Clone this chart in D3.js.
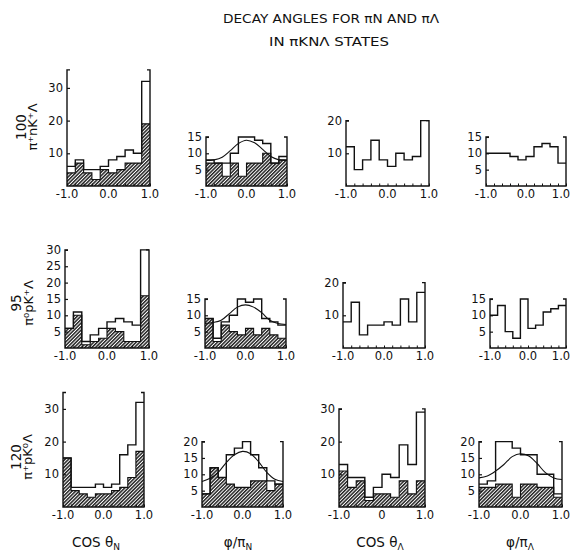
<!DOCTYPE html>
<html>
<head>
<meta charset="utf-8">
<script src="https://cdn.jsdelivr.net/npm/d3@7"></script>
<style>
body { margin: 0; background: #fff; }
svg text { font-family: "DejaVu Sans", sans-serif; fill: #111; }
</style>
</head>
<body>
<svg id="chart" width="572" height="553"></svg>
<script>
// bin edges shared by every histogram (10 bins, -1 .. 1)
const binEdges = [-1.0, -0.8, -0.6, -0.4, -0.2, 0.0, 0.2, 0.4, 0.6, 0.8, 1.0];
const fitX = [-1.0, -0.8, -0.6, -0.4, -0.2, 0.0, 0.2, 0.4, 0.6, 0.8, 1.0];

// row 1: pi+ n K+ Lambda, 100 events
const r1CosN      = [6, 8, 5, 5, 6, 8, 9, 11, 10, 32];
const r1CosNHatch = [4, 7, 4, 2, 5, 4, 5, 7, 7, 19];
const r1PhiN      = [8, 7, 7, 10, 15, 15, 14, 13, 7, 9];
const r1PhiNHatch = [7, 7, 3, 7, 3, 7, 7, 10, 7, 8];
const r1PhiNFit   = [7.8, 8, 8.8, 10.8, 13, 14, 13.2, 11.2, 9, 8, 7.8];
const r1CosL      = [12, 5, 8, 14, 8, 6, 10, 8, 9, 20];
const r1PhiL      = [10, 10, 10, 9, 8, 9, 12, 13, 12, 7];

// row 2: pi0 p K+ Lambda, 95 events
const r2CosN      = [6, 11, 2, 4, 6, 8, 9, 8, 7, 30];
const r2CosNHatch = [6, 10, 1, 2, 3, 6, 5, 2, 2, 16];
const r2PhiN      = [9, 3, 8, 10, 15, 14, 15, 9, 8, 7];
const r2PhiNHatch = [9, 2, 7, 5, 4, 6, 4, 6, 4, 3];
const r2PhiNFit   = [7.5, 7.8, 8.5, 10.5, 12.5, 13.2, 12.5, 10.8, 8.5, 7.5, 7.2];
const r2CosL      = [8, 14, 4, 7, 7, 8, 7, 15, 8, 17];
const r2PhiL      = [10, 13, 5, 3, 15, 6, 7, 11, 12, 13];

// row 3: pi+ p K0 Lambda, 120 events
const r3CosN      = [15, 6, 6, 6, 7, 6, 7, 16, 19, 32];
const r3CosNHatch = [15, 5, 4, 3, 4, 4, 5, 6, 9, 17];
const r3PhiN      = [4, 12, 9, 16, 18, 20, 16, 12, 8, 7];
const r3PhiNHatch = [4, 12, 9, 7, 6, 6, 8, 8, 5, 7];
const r3PhiNFit   = [7.8, 8.8, 10.6, 13.6, 16, 17, 16.3, 13.8, 10.6, 8.5, 7.8];
const r3CosL      = [13, 9, 9, 3, 6, 10, 9, 19, 13, 29];
const r3CosLHatch = [11, 6, 8, 2, 4, 4, 3, 8, 4, 8];
const r3PhiL      = [7, 8, 20, 20, 18, 16, 16, 10, 10, 4];
const r3PhiLHatch = [6, 6, 7, 7, 3, 7, 7, 6, 6, 3];
const r3PhiLFit   = [8.9, 9.5, 11, 13, 15.4, 16.3, 15.6, 13.3, 10.5, 8.9, 8.4];

const xTickLabels = ["-1.0", "0.0", "1.0"];
const xTickLabelsK = ["-1.0", "0", "1.0"];

// panel placement (pixels)
const pxPerUnit = 3.27;
const panels = [
    { x0: 67,  x1: 150, base: 186, ymax: 35.5, ticks: [10, 20, 30], all: r1CosN, hatch: r1CosNHatch },
    { x0: 206, x1: 287, base: 186, ymax: 15, ticks: [5, 10, 15], all: r1PhiN, hatch: r1PhiNHatch, fit: r1PhiNFit },
    { x0: 346, x1: 429, base: 186, ymax: 20, ticks: [10, 20], all: r1CosL },
    { x0: 486, x1: 566, base: 186, ymax: 15, ticks: [5, 10, 15], all: r1PhiL },
    { x0: 65,  x1: 149, base: 348, ymax: 30, ticks: [5, 10, 15, 20, 25, 30], all: r2CosN, hatch: r2CosNHatch },
    { x0: 205, x1: 286, base: 348, ymax: 15, ticks: [5, 10, 15], all: r2PhiN, hatch: r2PhiNHatch, fit: r2PhiNFit },
    { x0: 343, x1: 425, base: 348, ymax: 20, ticks: [10, 20], all: r2CosL },
    { x0: 490, x1: 566, base: 348, ymax: 15, ticks: [5, 10, 15], all: r2PhiL },
    { x0: 63,  x1: 144, base: 507, ymax: 35, ticks: [10, 20, 30], all: r3CosN, hatch: r3CosNHatch },
    { x0: 202, x1: 283, base: 507, ymax: 20, ticks: [5, 10, 15, 20], all: r3PhiN, hatch: r3PhiNHatch, fit: r3PhiNFit },
    { x0: 339, x1: 425, base: 507, ymax: 30, ticks: [10, 20, 30], all: r3CosL, hatch: r3CosLHatch, xlab: xTickLabelsK },
    { x0: 479, x1: 562, base: 507, ymax: 20, ticks: [5, 10, 15, 20], all: r3PhiL, hatch: r3PhiLHatch, fit: r3PhiLFit },
];

const svg = d3.select('#chart');

// diagonal hatching, dense like the printed shading
const pat = svg.append('defs').append('pattern')
    .attr('id', 'hatch')
    .attr('patternUnits', 'userSpaceOnUse')
    .attr('width', 2.5).attr('height', 2.5)
    .attr('patternTransform', 'rotate(45)');
pat.append('rect').attr('width', 2.5).attr('height', 2.5).attr('fill', '#fff');
pat.append('line').attr('x1', 0.75).attr('y1', 0).attr('x2', 0.75).attr('y2', 2.5)
    .attr('stroke', '#222').attr('stroke-width', 1.5);

// title
svg.append('text').attr('x', 331).attr('y', 23).attr('text-anchor', 'middle')
    .attr('font-size', 12.5).attr('textLength', 216).attr('lengthAdjust', 'spacingAndGlyphs')
    .text('DECAY ANGLES FOR πN AND πΛ');
svg.append('text').attr('x', 329).attr('y', 46).attr('text-anchor', 'middle')
    .attr('font-size', 12.5).attr('textLength', 120).attr('lengthAdjust', 'spacingAndGlyphs')
    .text('IN πKNΛ STATES');

panels.forEach(p => {
    const x = d3.scaleLinear().domain([-1, 1]).range([p.x0, p.x1]);
    const y = d3.scaleLinear().domain([0, p.ymax]).range([p.base, p.base - p.ymax * pxPerUnit]);
    const g = svg.append('g');

    const pts = vals => binEdges.map((e, i) => [e, vals[Math.min(i, vals.length - 1)]]);

    if (p.hatch) {
        g.append('path')
            .datum(pts(p.hatch))
            .attr('d', d3.area().curve(d3.curveStepAfter).x(d => x(d[0])).y0(y(0)).y1(d => y(d[1])))
            .attr('fill', 'url(#hatch)');
        g.append('path')
            .datum(pts(p.hatch))
            .attr('d', d3.line().curve(d3.curveStepAfter).x(d => x(d[0])).y(d => y(d[1])))
            .attr('fill', 'none').attr('stroke', '#111').attr('stroke-width', 1.1);
    }

    g.append('path')
        .datum(pts(p.all))
        .attr('d', d3.line().curve(d3.curveStepAfter).x(d => x(d[0])).y(d => y(d[1])))
        .attr('fill', 'none').attr('stroke', '#111').attr('stroke-width', 1.4);

    if (p.fit) {
        g.append('path')
            .datum(fitX.map((v, i) => [v, p.fit[i]]))
            .attr('d', d3.line().curve(d3.curveCatmullRom).x(d => x(d[0])).y(d => y(d[1])))
            .attr('fill', 'none').attr('stroke', '#111').attr('stroke-width', 1.1);
    }

    // frame: left axis, right edge, baseline
    const top = y(p.ymax);
    g.append('path')
        .attr('d', `M${p.x0 + 3},${top}H${p.x0}V${p.base}H${p.x1}V${top}H${p.x1 - 3}`)
        .attr('fill', 'none').attr('stroke', '#111').attr('stroke-width', 1.4);

    // y axis ticks and labels
    const ya = g.append('g').attr('transform', `translate(${p.x0},0)`)
        .call(d3.axisLeft(y).tickValues(p.ticks).tickSize(-3).tickPadding(4).tickFormat(d3.format('d')));
    ya.select('.domain').remove();
    ya.selectAll('line').attr('stroke', '#111').attr('stroke-width', 1.2);
    ya.selectAll('text').attr('font-size', 11.5).attr('font-family', '"DejaVu Sans", sans-serif').attr('fill', '#111');

    // x axis: minor ticks at every bin edge, labels at -1, 0, 1
    const xa = g.append('g').attr('transform', `translate(0,${p.base})`)
        .call(d3.axisBottom(x).tickValues(binEdges).tickSize(-2.5).tickFormat(''));
    xa.select('.domain').remove();
    xa.selectAll('line').attr('stroke', '#111');
    const labs = p.xlab || xTickLabels;
    g.selectAll('.xl').data([-1, 0, 1]).enter().append('text')
        .attr('x', d => Math.min(x(d), 572 - 11)).attr('y', p.base + 12)
        .attr('text-anchor', 'middle').attr('font-size', 11.5)
        .text((d, i) => labs[i]);
});

// row labels (rotated)
const rowLabels = [
    { n: '100', react: 'π⁺nK⁺Λ', cx1: 21, cx2: 32, cy: 127 },
    { n: '95', react: 'π⁰pK⁺Λ', cx1: 16, cx2: 28, cy: 303 },
    { n: '120', react: 'π⁺pK⁰Λ', cx1: 16, cx2: 27, cy: 457 },
];
rowLabels.forEach(r => {
    svg.append('text').attr('transform', `translate(${r.cx1 + 5},${r.cy}) rotate(-90)`)
        .attr('text-anchor', 'middle').attr('font-size', 13.5).text(r.n);
    svg.append('text').attr('transform', `translate(${r.cx2 + 5},${r.cy}) rotate(-90)`)
        .attr('text-anchor', 'middle').attr('font-size', 13).text(r.react);
});

// bottom axis titles
const colTitles = [
    { cx: 96, main: 'COS θ', sub: 'N' },
    { cx: 238, main: 'φ/π', sub: 'N' },
    { cx: 380, main: 'COS θ', sub: 'Λ' },
    { cx: 520, main: 'φ/π', sub: 'Λ' },
];
colTitles.forEach(c => {
    const t = svg.append('text').attr('x', c.cx).attr('y', 547).attr('text-anchor', 'middle').attr('font-size', 13.5);
    t.append('tspan').text(c.main);
    t.append('tspan').attr('font-size', 9).attr('dy', 3).text(c.sub);
});
</script>
</body>
</html>
